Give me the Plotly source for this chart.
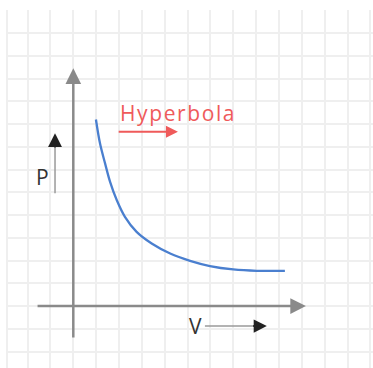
import plotly.graph_objects as go

# Isotherm of an ideal gas: pressure falls off as volume grows (P·V = const)
volume = [0.99, 1.17, 1.39, 1.61, 1.90, 2.26, 2.77, 3.43, 4.24, 5.11, 5.98, 7.00, 8.03, 9.26]
pressure = [8.20, 7.14, 6.27, 5.46, 4.66, 3.92, 3.26, 2.75, 2.31, 1.99, 1.76, 1.61, 1.55, 1.55]

curve_label = "Hyperbola"
x_label = "V"
y_label = "P"

AXIS_GREY = "#8a8a8a"
GRID_GREY = "#efefef"
CURVE_BLUE = "#4a7fcf"
LABEL_RED = "#ef5a5a"
INK = "#333333"

fig = go.Figure()

fig.add_trace(go.Scatter(
    x=volume, y=pressure, mode="lines",
    line=dict(color=CURVE_BLUE, width=2.3, shape="spline", smoothing=1.0),
    hoverinfo="skip", showlegend=False,
))


def arrow(tip, tail, color, width, size):
    fig.add_annotation(
        x=tip[0], y=tip[1], ax=tail[0], ay=tail[1],
        xref="x", yref="y", axref="x", ayref="y",
        text="", showarrow=True, arrowhead=2,
        arrowcolor=color, arrowwidth=width, arrowsize=size, standoff=0,
    )


# Coordinate axes drawn as arrows
arrow((0, 10.45), (0, -1.45), AXIS_GREY, 2.5, 1.25)
arrow((10.18, 0), (-1.63, 0), AXIS_GREY, 2.5, 1.25)

# Direction hints next to the axis names
fig.add_shape(type="line", x0=-0.80, y0=4.96, x1=-0.80, y1=7.2,
              line=dict(color="#9a9a9a", width=1.5))
arrow((-0.80, 7.60), (-0.80, 6.9), "#222222", 1.5, 1.85)
fig.add_shape(type="line", x0=5.76, y0=-0.88, x1=8.1, y1=-0.88,
              line=dict(color="#9a9a9a", width=1.5))
arrow((8.47, -0.88), (7.8, -0.88), "#222222", 1.5, 1.75)

# Label for the curve with its arrow
arrow((4.58, 7.66), (1.92, 7.66), LABEL_RED, 2, 1.2)
fig.add_annotation(
    x=1.96, y=8.5, xref="x", yref="y", xanchor="left", yanchor="middle",
    text=f'<span style="letter-spacing:1.6px">{curve_label}</span>',
    showarrow=False, font=dict(family="Open Sans", size=21, color=LABEL_RED),
)

fig.add_annotation(x=-1.33, y=5.67, xref="x", yref="y", text=y_label,
                   showarrow=False, font=dict(family="Open Sans", size=21, color=INK))
fig.add_annotation(x=5.33, y=-0.88, xref="x", yref="y", text=x_label,
                   showarrow=False, font=dict(family="Open Sans", size=21, color=INK))

fig.update_xaxes(range=[-2.858, 13.116], dtick=1, tick0=0, showgrid=True,
                 gridcolor=GRID_GREY, gridwidth=1.5, zeroline=False,
                 showticklabels=False, ticks="", showline=False, fixedrange=True)
fig.update_yaxes(range=[-2.72, 13.01], dtick=1, tick0=0, showgrid=True,
                 gridcolor=GRID_GREY, gridwidth=1.5, zeroline=False,
                 showticklabels=False, ticks="", showline=True,
                 linecolor=GRID_GREY, linewidth=1.5, fixedrange=True)

fig.update_layout(
    width=373, height=368,
    margin=dict(l=8, r=0, t=10, b=0),
    paper_bgcolor="white", plot_bgcolor="white",
    showlegend=False,
)

fig.write_html("out.html", config={"displayModeBar": False})
